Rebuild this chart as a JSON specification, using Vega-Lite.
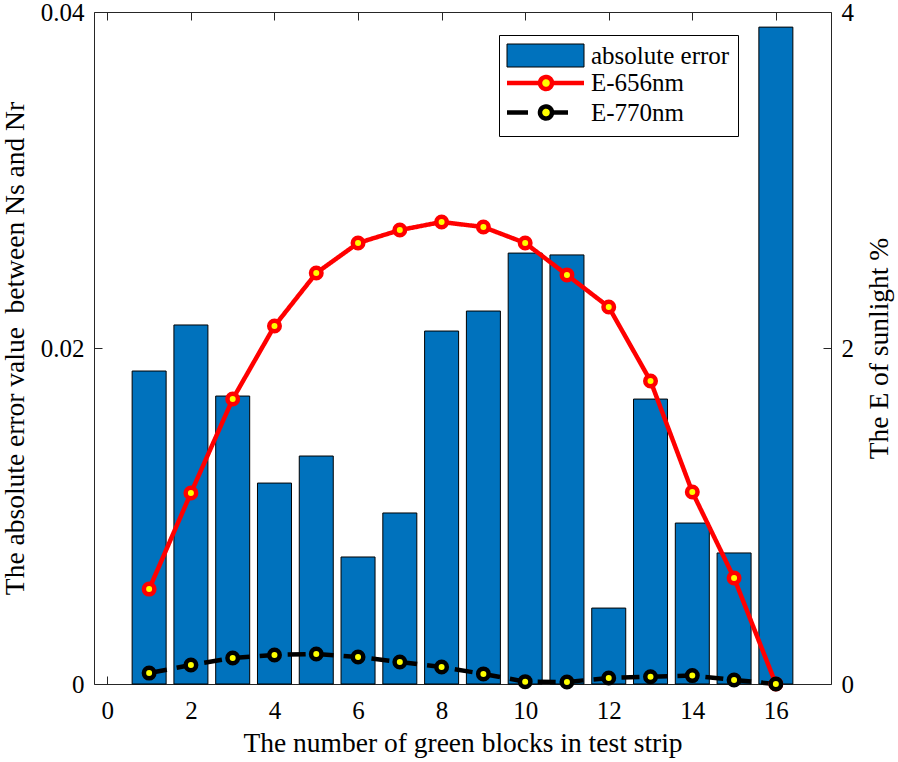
{
  "$schema": "https://vega.github.io/schema/vega-lite/v6.json",
  "width": 737,
  "height": 672,
  "autosize": "none",
  "padding": {"left": 94, "top": 12, "right": 67, "bottom": 78},
  "background": "white",
  "config": {
    "view": {"stroke": null},
    "font": "Liberation Serif",
    "axis": {
      "labelFont": "Liberation Serif", "labelFontSize": 25, "labelColor": "#000",
      "titleFont": "Liberation Serif", "titleFontSize": 27.5, "titleFontWeight": "normal", "titleColor": "#000",
      "domainColor": "#262626", "tickColor": "#262626", "tickSize": -8, "grid": false,
      "domainWidth": 1, "tickWidth": 1, "labelPadding": 18, "labelFlush": false, "labelOverlap": false
    }
  },
  "datasets": {
    "bars": [
      {"n": 1, "error": 0.01863}, {"n": 2, "error": 0.02137}, {"n": 3, "error": 0.01714}, {"n": 4, "error": 0.01196},
      {"n": 5, "error": 0.01357}, {"n": 6, "error": 0.00756}, {"n": 7, "error": 0.01018}, {"n": 8, "error": 0.02101},
      {"n": 9, "error": 0.0222}, {"n": 10, "error": 0.02565}, {"n": 11, "error": 0.02554}, {"n": 12, "error": 0.00452},
      {"n": 13, "error": 0.01696}, {"n": 14, "error": 0.00958}, {"n": 15, "error": 0.0078}, {"n": 16, "error": 0.0391}
    ],
    "E": [
      {"n": 1, "series": "E-656nm", "E": 0.565}, {"n": 2, "series": "E-656nm", "E": 1.137}, {"n": 3, "series": "E-656nm", "E": 1.696},
      {"n": 4, "series": "E-656nm", "E": 2.131}, {"n": 5, "series": "E-656nm", "E": 2.446}, {"n": 6, "series": "E-656nm", "E": 2.625},
      {"n": 7, "series": "E-656nm", "E": 2.702}, {"n": 8, "series": "E-656nm", "E": 2.75}, {"n": 9, "series": "E-656nm", "E": 2.72},
      {"n": 10, "series": "E-656nm", "E": 2.625}, {"n": 11, "series": "E-656nm", "E": 2.435}, {"n": 12, "series": "E-656nm", "E": 2.244},
      {"n": 13, "series": "E-656nm", "E": 1.804}, {"n": 14, "series": "E-656nm", "E": 1.143}, {"n": 15, "series": "E-656nm", "E": 0.631},
      {"n": 16, "series": "E-656nm", "E": 0},
      {"n": 1, "series": "E-770nm", "E": 0.065}, {"n": 2, "series": "E-770nm", "E": 0.113}, {"n": 3, "series": "E-770nm", "E": 0.155},
      {"n": 4, "series": "E-770nm", "E": 0.173}, {"n": 5, "series": "E-770nm", "E": 0.179}, {"n": 6, "series": "E-770nm", "E": 0.161},
      {"n": 7, "series": "E-770nm", "E": 0.131}, {"n": 8, "series": "E-770nm", "E": 0.101}, {"n": 9, "series": "E-770nm", "E": 0.06},
      {"n": 10, "series": "E-770nm", "E": 0.014}, {"n": 11, "series": "E-770nm", "E": 0.012}, {"n": 12, "series": "E-770nm", "E": 0.036},
      {"n": 13, "series": "E-770nm", "E": 0.043}, {"n": 14, "series": "E-770nm", "E": 0.05}, {"n": 15, "series": "E-770nm", "E": 0.024},
      {"n": 16, "series": "E-770nm", "E": 0}
    ]
  },
  "layer": [
    {
      "data": {"name": "bars"},
      "mark": {"type": "bar", "fill": "#0072BD", "stroke": "#000000", "strokeWidth": 1, "width": 34},
      "encoding": {
        "x": {"field": "n", "type": "quantitative",
          "scale": {"domain": [-0.2, 17.2], "nice": false, "zero": false},
          "axis": {"orient": "bottom", "values": [0, 2, 4, 6, 8, 10, 12, 14, 16], "labelPadding": 22,
            "title": "The number of green blocks in test strip", "titleFont": "Liberation Serif", "titlePadding": 6}},
        "y": {"field": "error", "type": "quantitative",
          "scale": {"domain": [0, 0.04], "nice": false},
          "axis": {"orient": "left", "values": [0, 0.02, 0.04], "format": "~g", "title": "The absolute error value\u00a0 between Ns and Nr",
            "titleFont": "Liberation Serif", "titlePadding": 11}}
      }
    },
    {
      "data": {"name": "E"},
      "encoding": {
        "x": {"field": "n", "type": "quantitative",
          "scale": {"domain": [-0.2, 17.2], "nice": false, "zero": false},
          "axis": {"orient": "top", "values": [0, 2, 4, 6, 8, 10, 12, 14, 16], "labels": false, "title": null}},
        "y": {"field": "E", "type": "quantitative",
          "scale": {"domain": [0, 4], "nice": false},
          "axis": {"orient": "right", "values": [0, 2, 4], "format": "~g", "title": "The E of sunlight %",
            "titleFont": "Liberation Serif", "titleAngle": 270, "titleBaseline": "top", "titlePadding": 12}},
        "stroke": {"field": "series", "type": "nominal",
          "scale": {"domain": ["absolute error", "E-656nm", "E-770nm"], "range": ["#000000", "#FF0000", "#000000"]},
          "legend": {
            "orient": "none", "legendX": 405, "legendY": 23, "title": null,
            "padding": 8, "strokeColor": "#000000", "fillColor": "#FFFFFF", "cornerRadius": 0,
            "symbolSize": 400, "labelOffset": 59, "labelFont": "Liberation Serif", "labelFontSize": 25,
            "labelColor": "#000000", "rowPadding": -1.5,
            "encode": {
              "symbols": {
                "update": {
                  "shape": {"signal": "datum.value === 'absolute error' ? 'M-1.25,-1.15H6.45V1.15H-1.25Z' : datum.value === 'E-656nm' ? 'M-1.25,0H2.05M3.25,0H6.45M2.05,0A0.6,0.6 0 1,1 3.25,0A0.6,0.6 0 1,1 2.05,0Z' : 'M-1.25,0H0.85M3.25,0H4.85M2.05,0A0.6,0.6 0 1,1 3.25,0A0.6,0.6 0 1,1 2.05,0Z'"},
                  "fill": {"signal": "datum.value === 'absolute error' ? '#0072BD' : '#FFFF00'"},
                  "fillOpacity": {"value": 1},
                  "stroke": {"signal": "datum.value === 'E-656nm' ? '#FF0000' : '#000000'"},
                  "strokeWidth": {"signal": "datum.value === 'absolute error' ? 1 : 4.5"},
                  "strokeDash": {"value": [1, 0]},
                  "opacity": {"value": 1}
                }
              }
            }
          }
        }
      },
      "layer": [
        {
          "mark": {"type": "line", "strokeWidth": 4.5},
          "encoding": {
            "strokeDash": {"field": "series", "type": "nominal",
              "scale": {"domain": ["E-656nm", "E-770nm"], "range": [[1, 0], [18, 10]]}, "legend": null}
          }
        },
        {
          "mark": {"type": "point", "shape": "circle", "fill": "#FFFF00", "fillOpacity": 1, "opacity": 1, "strokeWidth": 4.5, "size": 110}
        }
      ]
    }
  ],
  "resolve": {"scale": {"y": "independent"}, "axis": {"x": "independent", "y": "independent"}}
}
